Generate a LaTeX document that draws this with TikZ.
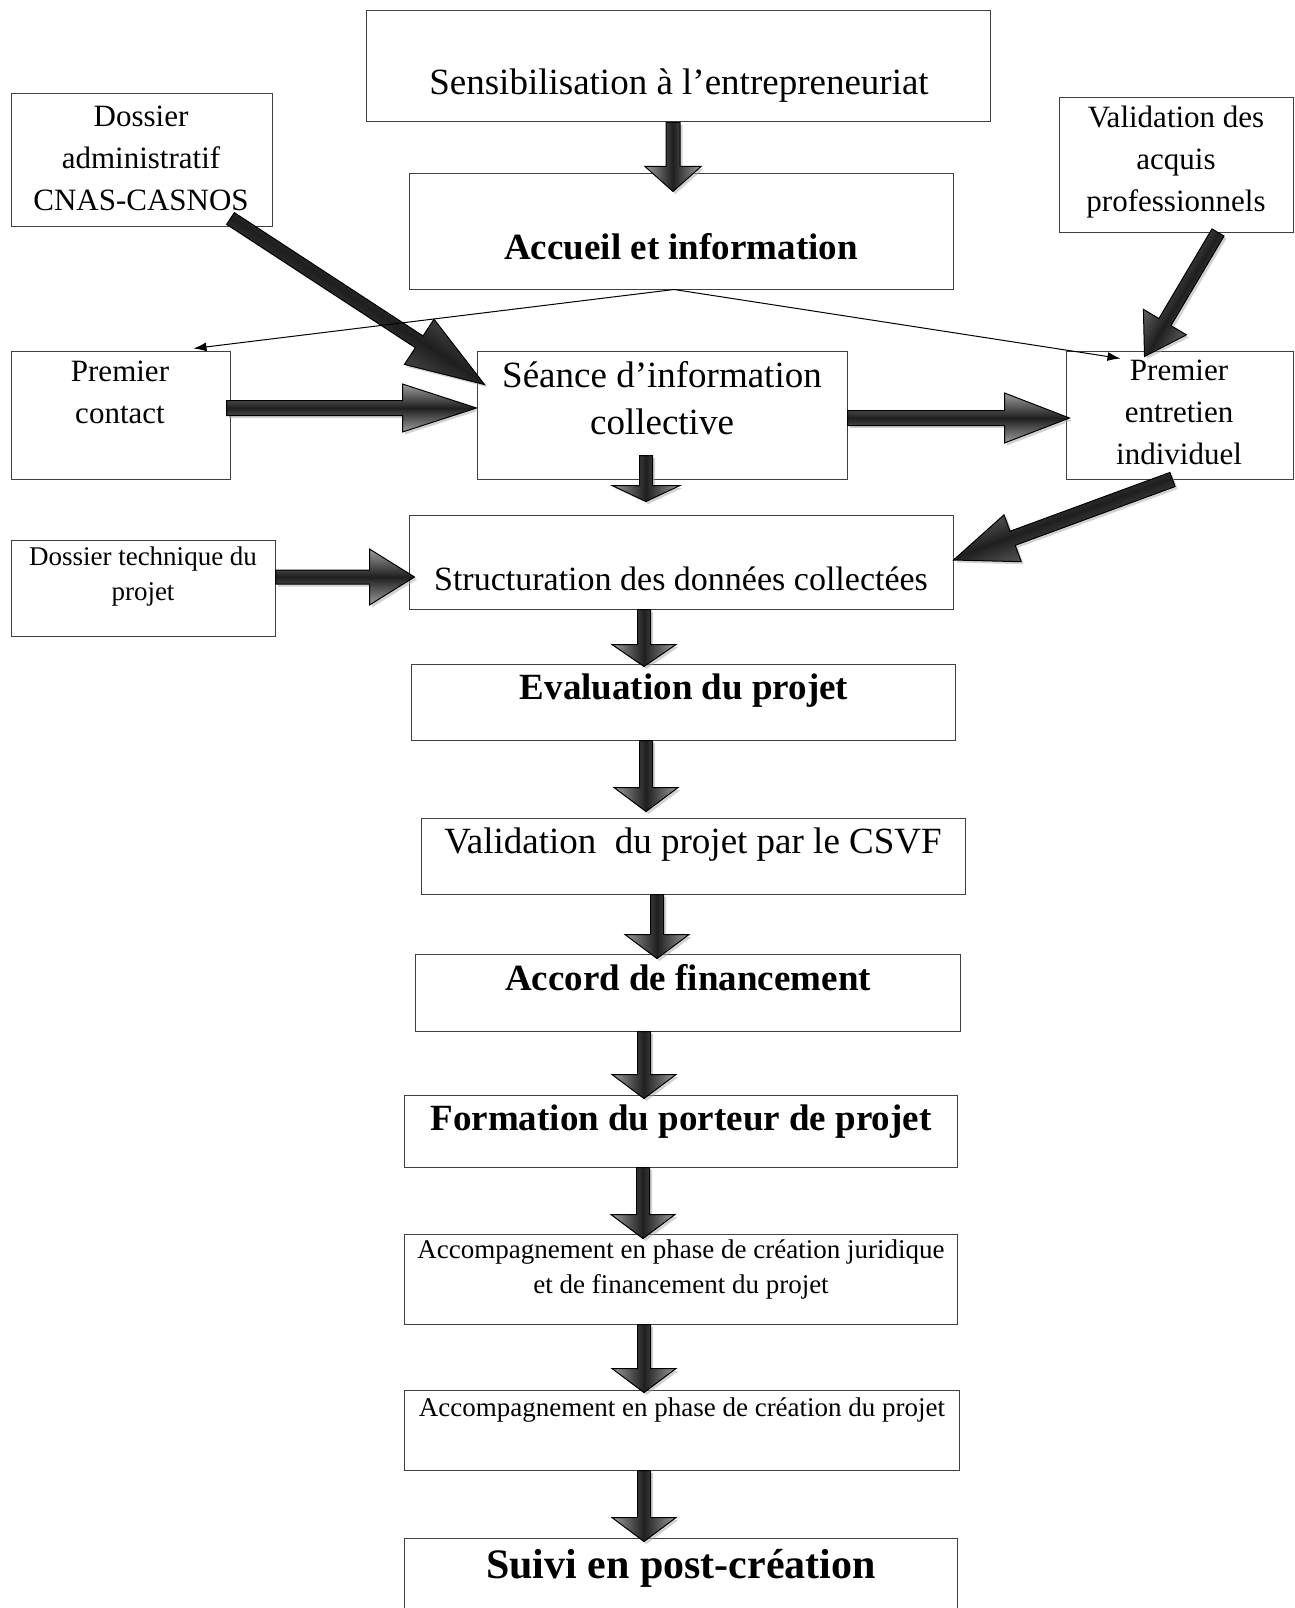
\documentclass[tikz,border=0pt]{standalone}
\usepackage{fontspec}
\setmainfont{Liberation Serif}
\usetikzlibrary{calc,shadows,arrows.meta,positioning}
\tikzset{etape/.style={draw=black!75, line width=1pt, rectangle, inner sep=0pt, fill=white}}
\tikzset{txt-grand/.style={font=\fontsize{37}{47}\selectfont, align=center}}
\tikzset{txt-gras/.style={font=\bfseries\fontsize{37}{47}\selectfont, align=center}}
\tikzset{txt-moyen/.style={font=\fontsize{31}{42}\selectfont, align=center}}
\tikzset{txt-petit/.style={font=\fontsize{27}{35}\selectfont, align=center}}
\tikzset{bloc-fleche/.style={draw=black, line width=1pt, top color=black!38, bottom color=black!38, middle color=black!88, drop shadow={shadow xshift=2.5pt, shadow yshift=-2.5pt, fill=black!35}}}
\tikzset{fine-fleche/.style={line width=1pt, -{Latex[length=13pt,width=9pt]}}}
\tikzset{>=latex}
% grosse fleche : depart, pointe, demi-largeur du corps, demi-largeur de la tete, longueur de la tete
\newcommand{\flechebloc}[5]{%
  \coordinate (fbs) at (#1);
  \coordinate (fbt) at (#2);
  \coordinate (fbb) at ($(fbt)!#5!(fbs)$);
  \pgfmathanglebetweenpoints{\pgfpointanchor{fbs}{center}}{\pgfpointanchor{fbt}{center}}%
  \let\fbangle\pgfmathresult
  \draw[bloc-fleche, shading angle=\fbangle]
    ($(fbs)!#3!90:(fbt)$) -- ($(fbb)!#3!90:(fbt)$) -- ($(fbb)!#4!90:(fbt)$) -- (fbt)
    -- ($(fbb)!#4!-90:(fbt)$) -- ($(fbb)!#3!-90:(fbt)$) -- ($(fbs)!#3!-90:(fbt)$) -- cycle;
}

\begin{document}
\begin{tikzpicture}[x=1pt, y=-1pt]
    \useasboundingbox (0,0) rectangle (1294,1608);

    % les cases
    \node [etape, minimum width=624pt, minimum height=111pt] (sensib) at (678,66.5) {};
    \node [etape, minimum width=261pt, minimum height=132pt] (dossadm) at (141.5,160) {};
    \node [etape, minimum width=234pt, minimum height=134pt] (vap) at (1176,165) {};
    \node [etape, minimum width=544pt, minimum height=115pt] (accueil) at (681,231.5) {};
    \node [etape, minimum width=219pt, minimum height=128pt] (contact) at (120.5,415) {};
    \node [etape, minimum width=370pt, minimum height=128pt] (seance) at (662,415) {};
    \node [etape, minimum width=227pt, minimum height=128pt] (entretien) at (1179.5,415) {};
    \node [etape, minimum width=264pt, minimum height=96pt] (dosstech) at (143,588) {};
    \node [etape, minimum width=544pt, minimum height=94pt] (struct) at (681,562) {};
    \node [etape, minimum width=544pt, minimum height=76pt] (evaluation) at (683,702) {};
    \node [etape, minimum width=544pt, minimum height=76pt] (validation) at (693,856) {};
    \node [etape, minimum width=545pt, minimum height=77pt] (accord) at (687.5,992.5) {};
    \node [etape, minimum width=553pt, minimum height=72pt] (formation) at (680.5,1131) {};
    \node [etape, minimum width=553pt, minimum height=90pt] (accomp1) at (680.5,1279) {};
    \node [etape, minimum width=555pt, minimum height=80pt] (accomp2) at (681.5,1430) {};
    \node [etape, minimum width=553pt, minimum height=74pt] (suivi) at (680.5,1575) {};

    % les textes
    \node [txt-grand] (sensib-t) at (679,86) {Sensibilisation à l’entrepreneuriat};
    \node [txt-moyen] (dossadm-t) at (141,158) {Dossier\\administratif\\CNAS-CASNOS};
    \node [txt-moyen] (vap-t) at (1176,162) {Validation des\\acquis\\professionnels};
    \node [txt-gras] (accueil-t) at (681,247) {Accueil et information};
    \node [txt-moyen] (contact-t) at (120,392) {Premier\\contact};
    \node [txt-grand] (seance-t) at (662,398) {Séance d’information\\collective};
    \node [txt-moyen] (entretien-t) at (1179,412) {Premier\\entretien\\individuel};
    \node [txt-petit] (dosstech-t) at (143,577) {Dossier technique du\\projet};
    \node [font=\fontsize{34}{40}\selectfont] (struct-t) at (681,579) {Structuration des données collectées};
    \node [txt-gras] (evaluation-t) at (684,691) {Evaluation du projet};
    \node [txt-grand] (validation-t) at (693,845) {Validation\ \ du projet par le CSVF};
    \node [txt-gras] (accord-t) at (688,978) {Accord de financement};
    \node [txt-gras] (formation-t) at (681,1122) {Formation du porteur de projet};
    \node [txt-petit] (accomp1-t) at (681,1269) {Accompagnement en phase de création juridique\\et de financement du projet};
    \node [txt-petit] (accomp2-t) at (682,1410) {Accompagnement en phase de création du projet};
    \node [font=\bfseries\fontsize{42}{50}\selectfont] (suivi-t) at (681,1568) {Suivi en post-création};

    % les grosses fleches
    \flechebloc{[xshift=-5pt]sensib.south}{[xshift=-8pt,yshift=-18pt]accueil.north}{7pt}{28pt}{25pt}
    \flechebloc{[xshift=-42pt,yshift=8pt]dossadm.south east}{[xshift=8pt,yshift=-34pt]seance.north west}{7pt}{27pt}{78pt}
    \flechebloc{[xshift=42pt]vap.south}{[xshift=79pt,yshift=-6pt]entretien.north west}{7pt}{25pt}{40pt}
    \flechebloc{[xshift=-4pt,yshift=7pt]contact.east}{[yshift=7pt]seance.west}{7.5pt}{24pt}{74pt}
    \flechebloc{[yshift=-3pt]seance.east}{[xshift=4pt,yshift=-3pt]entretien.west}{7.5pt}{25pt}{65pt}
    \flechebloc{[xshift=-16pt,yshift=24pt]seance.south}{[xshift=-35pt,yshift=13pt]struct.north}{6.5pt}{34pt}{16pt}
    \flechebloc{[xshift=-7pt]entretien.south}{[yshift=2pt]struct.east}{7.5pt}{25pt}{63pt}
    \flechebloc{[yshift=11pt]dosstech.east}{[xshift=6pt,yshift=-15pt]struct.west}{7pt}{28pt}{45pt}
    \flechebloc{[xshift=-37pt]struct.south}{[xshift=-39pt,yshift=-3pt]evaluation.north}{6.5pt}{32pt}{22pt}
    \flechebloc{[xshift=-37pt]evaluation.south}{[xshift=-47pt,yshift=6pt]validation.north}{6.5pt}{32pt}{24pt}
    \flechebloc{[xshift=-36pt]validation.south}{[xshift=-30.5pt,yshift=-5pt]accord.north}{6.5pt}{32pt}{24pt}
    \flechebloc{[xshift=-43.5pt]accord.south}{[xshift=-36.5pt,yshift=-4pt]formation.north}{6.5pt}{32pt}{24pt}
    \flechebloc{[xshift=-37.5pt]formation.south}{[xshift=-37.5pt,yshift=-5pt]accomp1.north}{6.5pt}{32pt}{24pt}
    \flechebloc{[xshift=-36.5pt]accomp1.south}{[xshift=-37.5pt,yshift=-3pt]accomp2.north}{6.5pt}{32pt}{24pt}
    \flechebloc{[xshift=-37.5pt]accomp2.south}{[xshift=-36.5pt,yshift=-4pt]suivi.north}{6.5pt}{32pt}{24pt}

    % les fines fleches
    \draw [fine-fleche] ([xshift=-7pt]accueil.south) -- ([xshift=-37pt,yshift=2pt]contact.north east);
    \draw [fine-fleche] ([xshift=-7pt]accueil.south) -- ([xshift=55pt,yshift=-8pt]entretien.north west);
\end{tikzpicture}
\end{document}
